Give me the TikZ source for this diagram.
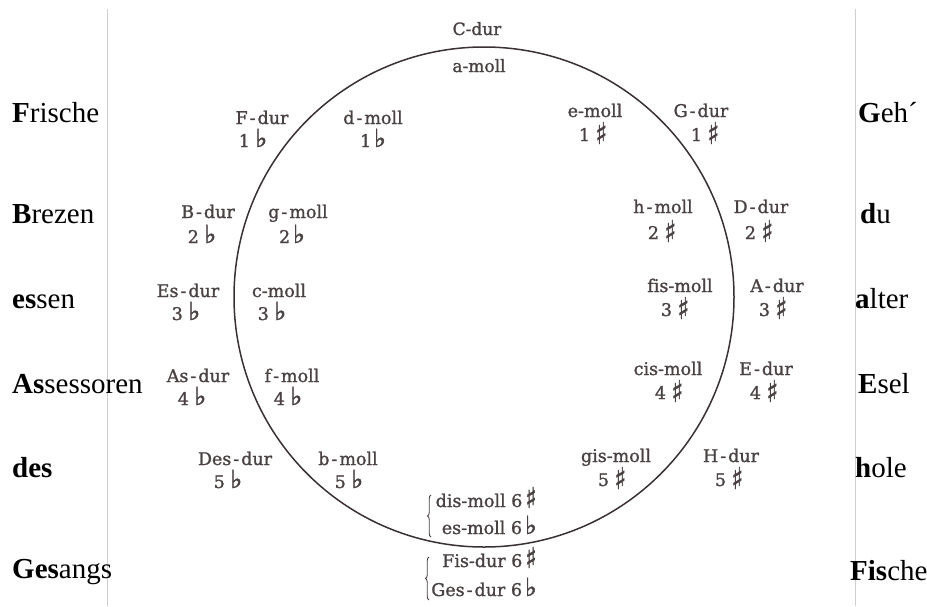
\documentclass[tikz,border=0pt]{standalone}
\usepackage{fontspec}
\usepackage{graphicx}
\setmainfont{Liberation Serif}
\newfontfamily\labfont[FakeBold=1.2,Ligatures=NoCommon]{DejaVu Serif}
\newfontfamily\symfont[FakeBold=1.5]{DejaVu Sans}
\usetikzlibrary{decorations.pathreplacing}
\definecolor{labgray}{HTML}{4A4242}
\definecolor{ringcol}{HTML}{3A3232}
\definecolor{rulecol}{HTML}{CFCFCF}
\newcommand\myflat{{\symfont\fontsize{25}{25}\selectfont ♭}}
\newcommand\mysharp{\raisebox{-3pt}{\scalebox{0.95}[1.2]{\symfont\fontsize{25}{25}\selectfont ♯}}}
\newcommand\mysharpup{\raisebox{-1pt}{\scalebox{0.95}[1.15]{\symfont\fontsize{25}{25}\selectfont ♯}}}
\newcommand\dsh{\kern2pt-\kern2pt}
\tikzset{
  word/.style={anchor=base west, inner sep=0pt, text=black, font=\fontsize{29}{32}\selectfont},
  keylab/.style={anchor=base, inner sep=0pt, text=labgray, font=\labfont\fontsize{17.5}{20}\selectfont},
  keysmall/.style={keylab, font=\labfont\fontsize{17}{20}\selectfont},
  keyright/.style={keylab, anchor=base east},
  ring/.style={circle, draw=ringcol, line width=1.5pt, inner sep=0pt, minimum size=500pt},
  rulel/.style={draw=rulecol, line width=0.8pt},
  bracecol/.style={draw=labgray, line width=0.9pt, decorate, decoration={brace, amplitude=3.5pt}}
}
\begin{document}
\begin{tikzpicture}[x=1pt, y=-1pt]
\useasboundingbox (0,0) rectangle (927,606);
\fill[white] (0,0) rectangle (927,606);

% margin rules
\coordinate (rl1) at (107,9); \coordinate (rl2) at (107,606);
\coordinate (rr1) at (855,9); \coordinate (rr2) at (855,606);
\draw[rulel] (rl1) -- (rl2);
\draw[rulel] (rr1) -- (rr2);

% circle
\node[ring] (circ) at (484,297) {};

% mnemonic words, left
\node[word] (w1) at (12,122) {{\bfseries F}rische};
\node[word] (w2) at (12,223) {{\bfseries B}rezen};
\node[word] (w3) at (12,308) {{\bfseries es}sen};
\node[word] (w4) at (12,393) {{\bfseries As}sessoren};
\node[word] (w5) at (12,477) {{\bfseries des}};
\node[word] (w6) at (12,578) {{\bfseries Ges}angs};
% mnemonic words, right
\node[word] (v1) at (858,122) {{\bfseries G}eh´};
\node[word] (v2) at (860,223) {{\bfseries d}u};
\node[word] (v3) at (855,308) {{\bfseries a}lter};
\node[word] (v4) at (858,393) {{\bfseries E}sel};
\node[word] (v5) at (855,477) {{\bfseries h}ole};
\node[word] (v6) at (850,580) {{\bfseries Fis}che};

% top
\node[keysmall] (Cdur) at (477,35) {C-dur};
\node[keysmall] (amoll) at (479,72) {a-moll};

% row 1
\node[keylab] (Fdur) at (262,124) {F\dsh dur};
\node[keylab] (Fdurn) at (253,147) {1 \myflat};
\node[keylab] (dmoll) at (373,124) {d\dsh moll};
\node[keylab] (dmolln) at (373,147) {1\,\myflat};
\node[keylab] (emoll) at (595,117) {e-moll};
\node[keylab] (emolln) at (593,141) {1 \mysharp};
\node[keylab] (Gdur) at (701,117) {G\dsh dur};
\node[keylab] (Gdurn) at (705,141) {1 \mysharp};

% row 2
\node[keylab] (Bdur) at (208,218) {B\dsh dur};
\node[keylab] (Bdurn) at (202,243) {2 \myflat};
\node[keylab] (gmoll) at (298,218) {g\dsh moll};
\node[keylab] (gmolln) at (292,243) {2\,\myflat};
\node[keylab] (hmoll) at (663,213) {h\dsh moll};
\node[keylab] (hmolln) at (662,239) {2 \mysharp};
\node[keylab] (Ddur) at (761,213) {D\dsh dur};
\node[keylab] (Ddurn) at (759,239) {2 \mysharp};

% row 3
\node[keylab] (Esdur) at (188,297) {Es\dsh dur};
\node[keylab] (Esdurn) at (186,320) {3 \myflat};
\node[keylab] (cmoll) at (279,297) {c-moll};
\node[keylab] (cmolln) at (272,320) {3 \myflat};
\node[keylab] (fismoll) at (680,292) {fis-moll};
\node[keylab] (fismolln) at (675,316) {3 \mysharp};
\node[keylab] (Adur) at (777,292) {A\dsh dur};
\node[keylab] (Adurn) at (773,316) {3 \mysharp};

% row 4
\node[keylab] (Asdur) at (198,382) {As\dsh dur};
\node[keylab] (Asdurn) at (192,405) {4 \myflat};
\node[keylab] (fmoll) at (292,382) {f\dsh moll};
\node[keylab] (fmolln) at (288,405) {4 \myflat};
\node[keylab] (cismoll) at (668,375) {cis-moll};
\node[keylab] (cismolln) at (669,399) {4 \mysharp};
\node[keylab] (Edur) at (766,375) {E\dsh dur};
\node[keylab] (Edurn) at (764,399) {4 \mysharp};

% row 5
\node[keylab] (Desdur) at (235,465) {Des\dsh dur};
\node[keylab] (Desdurn) at (228,488) {5 \myflat};
\node[keylab] (bmoll) at (348,465) {b\dsh moll};
\node[keylab] (bmolln) at (349,488) {5 \myflat};
\node[keylab] (gismoll) at (616,462) {gis-moll};
\node[keylab] (gismolln) at (612,486) {5 \mysharp};
\node[keylab] (Hdur) at (731,462) {H\dsh dur};
\node[keylab] (Hdurn) at (729,486) {5 \mysharp};

% bottom enharmonic pairs
\node[keyright] (dismoll) at (537,507) {dis-moll 6\,\mysharpup};
\node[keyright] (esmoll) at (537,534) {es-moll 6\,\myflat};
\node[keyright] (Fisdur) at (537,567) {Fis-dur 6\,\mysharpup};
\node[keyright] (Gesdur) at (537,596) {Ges\dsh dur 6\,\myflat};
\coordinate (b1a) at (431,537); \coordinate (b1b) at (431,495);
\coordinate (b2a) at (429,600); \coordinate (b2b) at (429,557);
\draw[bracecol] (b1a) -- (b1b);
\draw[bracecol] (b2a) -- (b2b);
\end{tikzpicture}
\end{document}
